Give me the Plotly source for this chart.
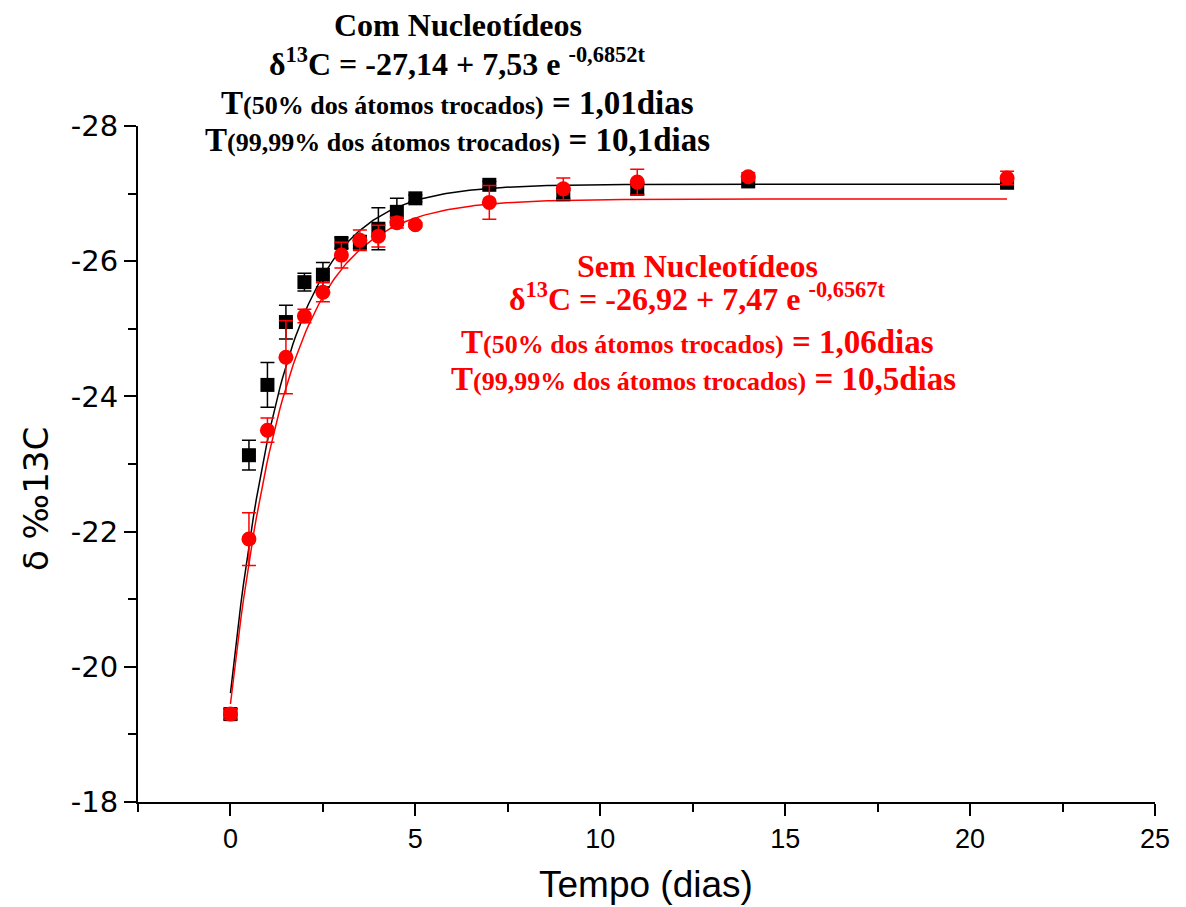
import numpy as np
import plotly.graph_objects as go

# Time points (days)
tempo = [0, 0.5, 1, 1.5, 2, 2.5, 3, 3.5, 4, 4.5, 5, 7, 9, 11, 14, 21]

# Com Nucleotídeos (black squares)
com_vals = [-19.30, -23.13, -24.17, -25.10, -25.69, -25.80, -26.27, -26.28,
            -26.48, -26.73, -26.93, -27.13, -26.99, -27.07, -27.18, -27.16]
com_err = [0.08, 0.22, 0.33, 0.25, 0.13, 0.18, 0.08, 0.10,
           0.31, 0.20, 0.05, 0.05, 0.06, 0.08, 0.05, 0.06]

# Sem Nucleotídeos (red circles)
sem_vals = [-19.30, -21.89, -23.50, -24.58, -25.19, -25.54, -26.09, -26.31,
            -26.37, -26.57, -26.54, -26.87, -27.07, -27.17, -27.25, -27.23]
sem_err = [0.08, 0.39, 0.18, 0.54, 0.10, 0.14, 0.19, 0.15,
           0.16, 0.08, 0.03, 0.25, 0.16, 0.19, 0.06, 0.10]

# Fit parameters printed on the chart: y = a + b*exp(-k t)
com_fit = (-27.14, 7.53, 0.6852)
sem_fit = (-26.92, 7.47, 0.6567)

x_ticks = [0, 5, 10, 15, 20, 25]
x_labels = ["0", "5", "10", "15", "20", "25"]
y_ticks = [-28, -26, -24, -22, -20, -18]
y_labels = ["-28", "-26", "-24", "-22", "-20", "-18"]

tfit = np.linspace(0, 21, 300)

def fit(p):
    a, b, k = p
    return a + b * np.exp(-k * tfit)

fig = go.Figure()

fig.add_trace(go.Scatter(x=tfit, y=fit(com_fit), mode="lines",
                         line=dict(color="black", width=1.5), showlegend=False))
fig.add_trace(go.Scatter(x=tfit, y=fit(sem_fit), mode="lines",
                         line=dict(color="red", width=1.5), showlegend=False))

fig.add_trace(go.Scatter(
    x=tempo, y=com_vals, mode="markers",
    marker=dict(symbol="square", size=14, color="black"),
    error_y=dict(type="data", array=com_err, color="black", thickness=1.5, width=7),
    showlegend=False))
fig.add_trace(go.Scatter(
    x=tempo, y=sem_vals, mode="markers",
    marker=dict(symbol="circle", size=15, color="red"),
    error_y=dict(type="data", array=sem_err, color="red", thickness=1.5, width=7),
    showlegend=False))

OFF = 8  # page body margin
W, H = 1186 - OFF, 907 - OFF
L = 138 - OFF
T = 126 - OFF
R = W - (1155 - OFF)
B = H - (802 - OFF)
pw = W - L - R
ph = H - T - B

def px(x):
    return (x - OFF - L) / pw

def py(y):
    return (H - B - (y - OFF)) / ph

serif = "Liberation Serif"
big, small = 33, 26
sans = "Liberation Sans"

def tline(pre, post):
    return (f"<span style='font-size:{big}px'>T</span>"
            f"<span style='font-size:{small}px'>({pre} dos átomos trocados)</span>"
            f"<span style='font-size:{big}px'> = {post}</span>")

annos = []
def add(text, x, y, size, color):
    annos.append(dict(text=text, x=px(x), y=py(y), xref="paper", yref="paper",
                      showarrow=False, xanchor="center", yanchor="middle",
                      font=dict(family=serif, size=size, color=color)))

# Com block
add("<b>Com Nucleotídeos</b>", 458, 25, 32, "black")
add("<b>δ<sup>13</sup>C = -27,14 + 7,53 e <sup>-0,6852t</sup></b>", 457, 62, 32, "black")
add("<b>" + tline("50%", "1,01dias") + "</b>", 457, 103, big, "black")
add("<b>" + tline("99,99%", "10,1dias") + "</b>", 457, 140, big, "black")

# Sem block
add("<b>Sem Nucleotídeos</b>", 697, 266, 32, "red")
add("<b>δ<sup>13</sup>C = -26,92 + 7,47 e <sup>-0,6567t</sup></b>", 697, 297, 32, "red")
add("<b>" + tline("50%", "1,06dias") + "</b>", 697, 342, big, "red")
add("<b>" + tline("99,99%", "10,5dias") + "</b>", 703, 379, 32, "red")

# Axis titles
annos.append(dict(text="δ ‰13C", x=px(36), y=py(499), xref="paper", yref="paper",
                  showarrow=False, textangle=-90, xanchor="center", yanchor="middle",
                  font=dict(family="DejaVu Sans", size=34, color="black")))
annos.append(dict(text="Tempo (dias)", x=px(646), y=py(885), xref="paper", yref="paper",
                  showarrow=False, xanchor="center", yanchor="middle",
                  font=dict(family=sans, size=37, color="black")))

fig.update_layout(
    width=W, height=H,
    margin=dict(l=L, r=R, t=T, b=B, autoexpand=False),
    plot_bgcolor="white", paper_bgcolor="white",
    annotations=annos,
    font=dict(family=sans, color="black"),
)

fig.update_xaxes(
    range=[-2.5, 25], tickvals=x_ticks, ticktext=x_labels,
    ticks="outside", ticklen=12, tickwidth=2,
    tickcolor="black", showline=True, linecolor="black", linewidth=2,
    showgrid=False, zeroline=False, tickfont=dict(size=27, family=sans),
    minor=dict(dtick=2.5, tick0=0, ticks="outside", ticklen=8, tickwidth=2,
               tickcolor="black", showgrid=False),
)
fig.update_yaxes(
    range=[-18, -28], tickvals=y_ticks, ticktext=y_labels,
    ticks="outside", ticklen=12, tickwidth=2,
    tickcolor="black", showline=True, linecolor="black", linewidth=2,
    showgrid=False, zeroline=False, tickfont=dict(size=29, family="DejaVu Sans"),
    minor=dict(dtick=1, tick0=0, ticks="outside", ticklen=8, tickwidth=2,
               tickcolor="black", showgrid=False),
)

fig.write_html("out.html")
